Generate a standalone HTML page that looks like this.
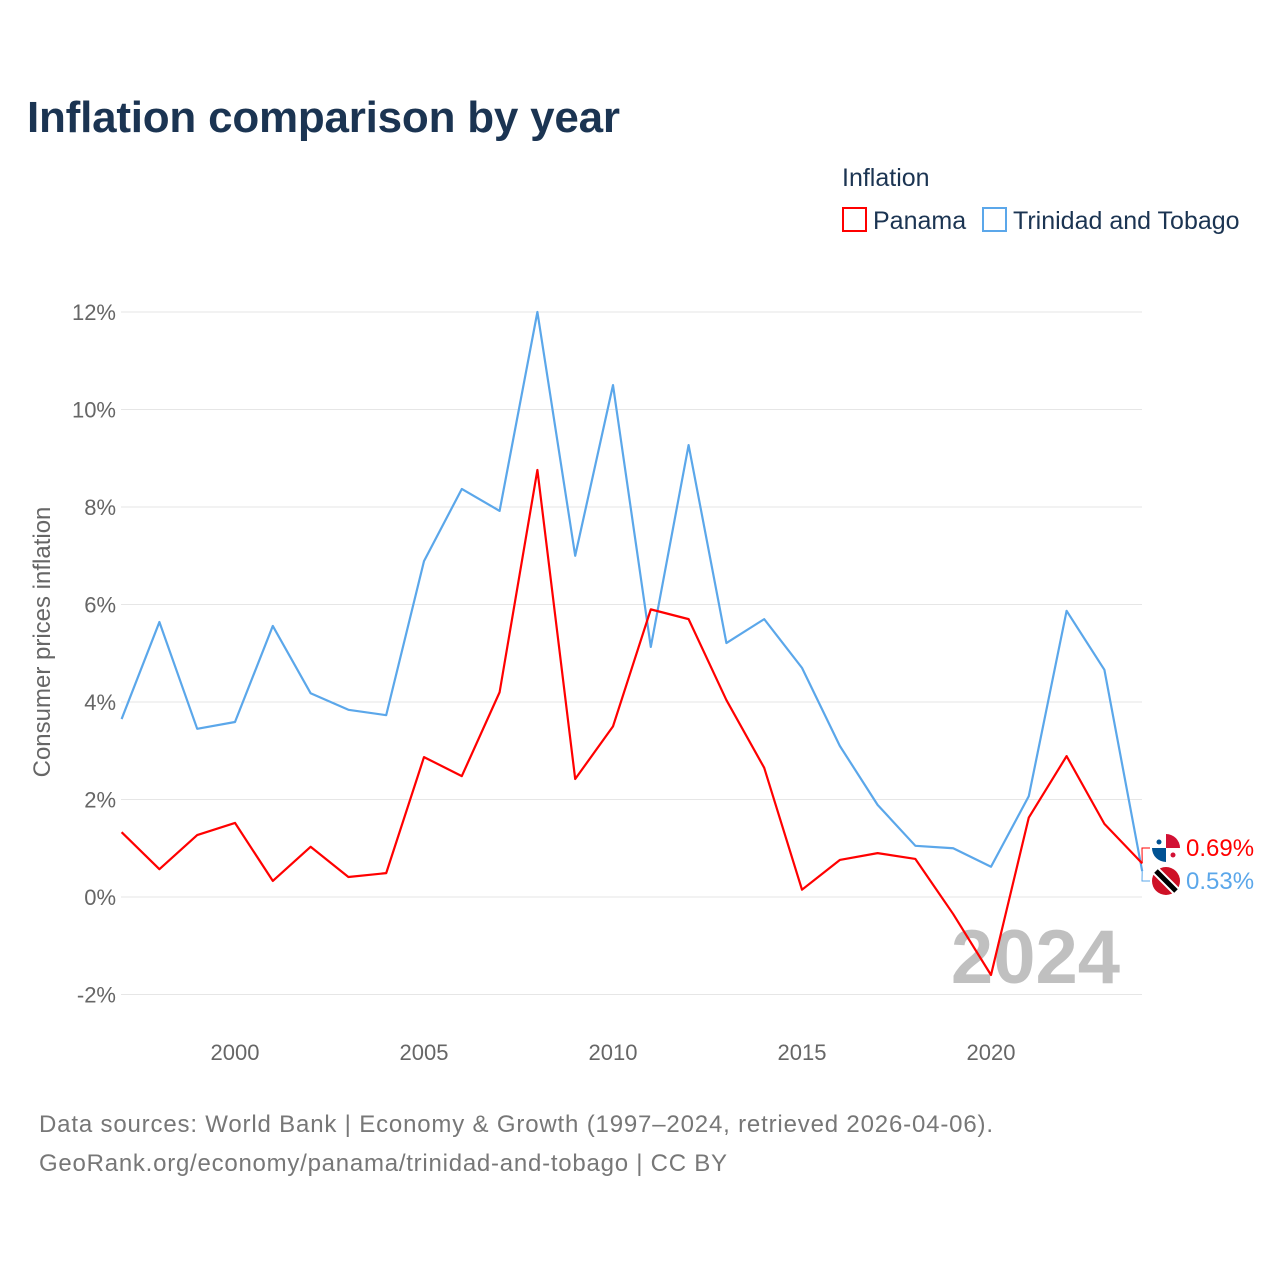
<!DOCTYPE html>
<html><head><meta charset="utf-8"><style>
body{margin:0;background:#fff;font-family:"Liberation Sans",sans-serif;}
</style></head><body>
<svg width="1280" height="1280" viewBox="0 0 1280 1280" style="font-family:'Liberation Sans',sans-serif">
<text x="27" y="132" font-size="44" font-weight="bold" fill="#1b3452" textLength="593">Inflation comparison by year</text>
<text x="842" y="186" font-size="25" fill="#1b3452">Inflation</text>
<g><rect x="843" y="208" width="23" height="23" fill="none" stroke="#ff0000" stroke-width="2"/><text x="873" y="229" font-size="25" fill="#1b3452">Panama</text></g>
<g><rect x="983" y="208" width="23" height="23" fill="none" stroke="#5ba7ea" stroke-width="2"/><text x="1013" y="229" font-size="25" fill="#1b3452">Trinidad and Tobago</text></g>
<g id="grid"></g>
<g id="yticks"></g>
<g id="xticks"></g>
<text x="1120" y="983" font-size="76" font-weight="bold" fill="#c0c0c0" text-anchor="end">2024</text>
<text transform="translate(50,642) rotate(-90)" font-size="24" fill="#666" text-anchor="middle">Consumer prices inflation</text>
<g id="series"></g>
<text x="39" y="1132" font-size="24" fill="#777" textLength="954">Data sources: World Bank | Economy &amp; Growth (1997–2024, retrieved 2026-04-06).</text>
<text x="39" y="1171" font-size="24" fill="#777" textLength="688">GeoRank.org/economy/panama/trinidad-and-tobago | CC BY</text>
</svg>
<script>
const years=[1997,1998,1999,2000,2001,2002,2003,2004,2005,2006,2007,2008,2009,2010,2011,2012,2013,2014,2015,2016,2017,2018,2019,2020,2021,2022,2023,2024];
const panama=[1.33,0.57,1.27,1.52,0.33,1.03,0.41,0.49,2.87,2.48,4.2,8.76,2.42,3.5,5.9,5.7,4.04,2.65,0.15,0.76,0.9,0.78,-0.35,-1.6,1.63,2.89,1.5,0.69];
const trinidad=[3.65,5.64,3.45,3.59,5.56,4.18,3.84,3.73,6.89,8.37,7.92,12.0,7.0,10.5,5.13,9.27,5.21,5.7,4.7,3.1,1.89,1.05,1.0,0.62,2.07,5.87,4.66,0.53];
const yTicks=[-2,0,2,4,6,8,10,12];
const xTicks=[2000,2005,2010,2015,2020];
const NS="http://www.w3.org/2000/svg";
const x=v=>121.6+(v-1997)*37.8;
const y=v=>897-v*48.75;
function mk(t,a,p){const e=document.createElementNS(NS,t);for(const k in a)e.setAttribute(k,a[k]);p.appendChild(e);return e;}
const grid=document.getElementById('grid'),yt=document.getElementById('yticks'),xt=document.getElementById('xticks'),se=document.getElementById('series');
yTicks.forEach(v=>{
 const l=mk('line',{x1:121,x2:1142,y1:y(v),y2:y(v),stroke:'#e6e6e6','stroke-width':1},grid);
 
 
 const t=mk('text',{x:116,y:y(v)+8,'font-size':22,fill:'#666','text-anchor':'end'},yt);
 t.textContent=v+'%';
 
 
});
xTicks.forEach(v=>{
 const t=mk('text',{x:x(v),y:1060,'font-size':22,fill:'#666','text-anchor':'middle'},xt);
 t.textContent=v;
 
 
});
function line(d,c,name){
 const p=mk('polyline',{points:d.map((v,i)=>x(years[i])+','+y(v)).join(' '),fill:'none',stroke:c,'stroke-width':2.2,'stroke-linejoin':'round'},se);
 
 
}
line(trinidad,'#5ba7ea','trinidad-line');
line(panama,'#ff0000','panama-line');
const last=years.length-1;
const pv=panama[last],tv=trinidad[last];
const py=848,ty=881;
mk('polyline',{points:`${x(2024)},${y(pv)} 1142,${py} 1150,${py}`,fill:'none',stroke:'#ff0000','stroke-width':1},se);
mk('polyline',{points:`${x(2024)},${y(tv)} 1142,${ty} 1150,${ty}`,fill:'none',stroke:'#5ba7ea','stroke-width':1},se);
const f1=mk('g',{},se);


mk('circle',{cx:1166,cy:py,r:14,fill:'#fff'},f1);
mk('path',{d:`M1166 ${py} L1180 ${py} A14 14 0 0 0 1166 ${py-14} Z`,fill:'#d21034'},f1);
mk('path',{d:`M1166 ${py} L1152 ${py} A14 14 0 0 0 1166 ${py+14} Z`,fill:'#005293'},f1);
mk('circle',{cx:1159,cy:py-6,r:2.5,fill:'#005293'},f1);
mk('circle',{cx:1173,cy:py+7,r:2.5,fill:'#d21034'},f1);
const f2=mk('g',{},se);


mk('circle',{cx:1166,cy:ty,r:14,fill:'#ce1126'},f2);
mk('line',{x1:1156,y1:ty-10,x2:1176,y2:ty+10,stroke:'#fff','stroke-width':9},f2);
mk('line',{x1:1156,y1:ty-10,x2:1176,y2:ty+10,stroke:'#000','stroke-width':5},f2);
const l1=mk('text',{x:1186,y:py+8,'font-size':24,fill:'#ff0000'},se);
l1.textContent=pv.toFixed(2)+'%';


const l2=mk('text',{x:1186,y:ty+8,'font-size':24,fill:'#5ba7ea'},se);
l2.textContent=tv.toFixed(2)+'%';


</script>
</body></html>
